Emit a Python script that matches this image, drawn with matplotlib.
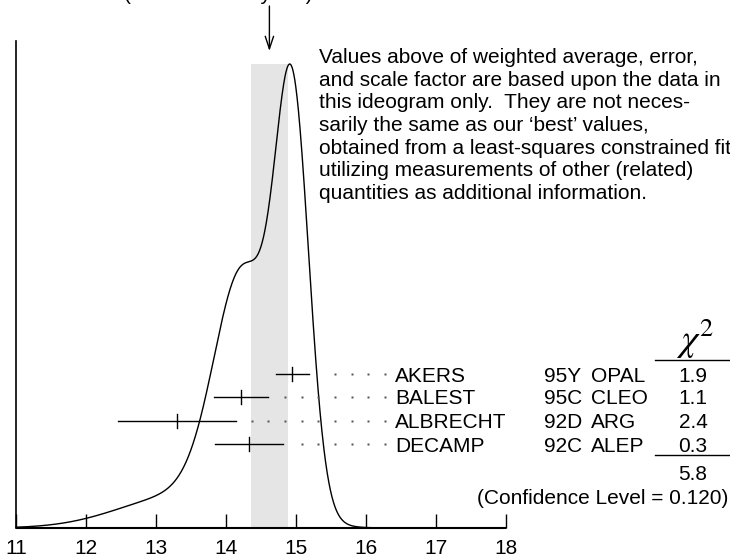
import matplotlib
matplotlib.use("Agg")
import matplotlib.pyplot as plt
import numpy as np

plt.rcParams['font.family'] = ['Liberation Sans', 'DejaVu Sans']
plt.rcParams['mathtext.fontset'] = 'stix'

# measurements shown in the ideogram
authors = ['AKERS', 'BALEST', 'ALBRECHT', 'DECAMP']
refs = ['95Y', '95C', '92D', '92C']
expts = ['OPAL', 'CLEO', 'ARG', 'ALEP']
values = [14.95, 14.22, 13.30, 14.33]
errors = [0.24, 0.385, 0.85, 0.49]
chi2 = ['1.9', '1.1', '2.4', '0.3']
chi2_total = '5.8'
conf_level = '0.120'

avg = 14.62  # weighted average
avg_err = 0.26  # scaled error
scale_label = '(Error scaled by 1.4)'

x_ticks = [11, 12, 13, 14, 15, 16, 17, 18]

note = ["Values above of weighted average, error,",
        "and scale factor are based upon the data in",
        "this ideogram only.  They are not neces-",
        "sarily the same as our \u2018best\u2019 values,",
        "obtained from a least-squares constrained fit",
        "utilizing measurements of other (related)",
        "quantities as additional information."]

W, H = 730, 559
FS = 15


# pixel -> data helpers (layout only)
def px_x(px):
    return 11 + (px - 16) / 70


def px_y(py):
    return (528 - py) / 464


fig = plt.figure(figsize=(W / 100, H / 100), dpi=100)
ax = fig.add_axes([0, 0, 1, 1])
ax.set_xlim(px_x(0), px_x(W))
ax.set_ylim(px_y(H), px_y(0))
ax.axis('off')

# ideogram: sum of gaussians, each weighted by 1/error
xs = np.linspace(x_ticks[0], x_ticks[-1], 1500)
curve = np.zeros_like(xs)
for v, e in zip(values, errors):
    curve += np.exp(-0.5 * ((xs - v) / e) ** 2) / e ** 2
curve /= curve.max()

ax.fill_between([avg - avg_err, avg + avg_err], 0, 1, color='#e5e5e5', lw=0, zorder=0)
ax.plot(xs, curve, color='black', lw=1.0, zorder=3)

# axes
ax.plot([x_ticks[0], x_ticks[-1]], [0, 0], color='black', lw=1.5, zorder=4,
        solid_capstyle='butt')
ax.plot([x_ticks[0], x_ticks[0]], [0, px_y(41)], color='black', lw=1.2, zorder=4)
ax.vlines(x_ticks, 0, px_y(528 - 14), color='black', lw=1.0, zorder=4)
for t in x_ticks:
    ax.text(t, px_y(554), str(t), ha='center', va='baseline', fontsize=FS)

# arrow to weighted average and the (cut off) label
ax.annotate('', xy=(avg, px_y(51)), xytext=(avg, px_y(6)),
            arrowprops=dict(arrowstyle='->,head_length=0.9,head_width=0.3',
                            color='black', lw=1.0, shrinkA=0, shrinkB=0))
fig.text(218 / W, 1 - 0.5 / H, scale_label, ha='center', va='baseline', fontsize=FS)

# explanatory note
for i, line in enumerate(note):
    ax.text(px_x(319), px_y(63 + i * 22.7), line, ha='left', va='baseline', fontsize=FS)

# measurements
row_y = [px_y(py) for py in (374, 397, 421, 444)]
tick_h = 7 / 464
dot_step = 16.67 / 70
dot_end = px_x(385)
for i in range(len(values)):
    y = row_y[i]
    v, e = values[i], errors[i]
    ax.plot([v - e, v + e], [y, y], color='black', lw=1.0, zorder=5)
    ax.plot([v, v], [y - tick_h, y + tick_h], color='black', lw=1.0, zorder=5)
    dots = dot_end - dot_step * np.arange(40)
    dots = dots[dots > v + e + 0.2]
    ax.plot(dots, np.full_like(dots, y), ls='none', marker='s', ms=1.5,
            color='#555555', mec='none', zorder=5)
    yb = y - 7.5 / 464
    ax.text(px_x(395), yb, authors[i], ha='left', va='baseline', fontsize=FS)
    ax.text(px_x(544), yb, refs[i], ha='left', va='baseline', fontsize=FS)
    ax.text(px_x(591), yb, expts[i], ha='left', va='baseline', fontsize=FS)
    ax.text(px_x(693), yb, chi2[i], ha='center', va='baseline', fontsize=FS)

ax.text(px_x(695), px_y(351), r'$\chi^2$', ha='center', va='baseline', fontsize=27)
ax.plot([px_x(655), px_x(730)], [px_y(360), px_y(360)], color='black', lw=1.0)
ax.plot([px_x(655), px_x(730)], [px_y(455), px_y(455)], color='black', lw=1.0)
ax.text(px_x(693), px_y(480), chi2_total, ha='center', va='baseline', fontsize=FS)
ax.text(px_x(728), px_y(504), f'(Confidence Level = {conf_level})', ha='right',
        va='baseline', fontsize=FS)

fig.savefig('out.png', dpi=100)
